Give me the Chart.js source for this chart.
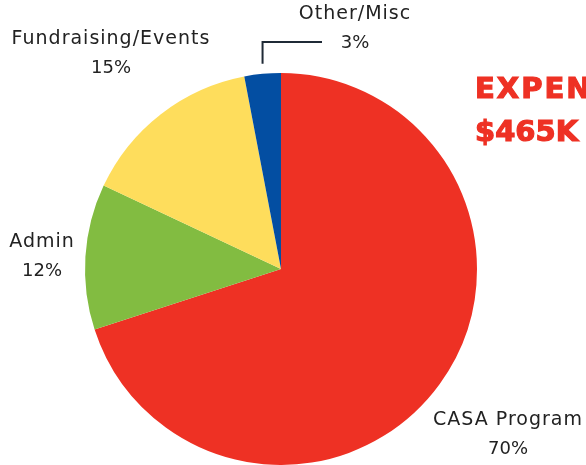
<!DOCTYPE html>
<html>
<head>
<meta charset="utf-8">
<script src="https://cdn.jsdelivr.net/npm/chart.js@4"></script>
<style>
  html, body { margin: 0; padding: 0; background: #fff; }
  #wrap { width: 586px; height: 465px; }
</style>
</head>
<body>
<div id="wrap"><canvas id="expenseChart" width="586" height="465"></canvas></div>
<script>
const categories = ['CASA Program', 'Admin', 'Fundraising/Events', 'Other/Misc'];
const percentages = [70, 12, 15, 3];
const sliceColors = ['#EE3124', '#82BC41', '#FEDD5C', '#034EA2'];
const titleLines = ['EXPENSES', '$465K'];

// where each category label sits (centre of text block)
const labelSpots = [
    { x: 508, y: 420 },
    { x: 42, y: 242 },
    { x: 111, y: 39 },
    { x: 355, y: 14 }
];

const labelsPlugin = {
    id: 'pieLabels',
    afterDraw(chart) {
        const ctx = chart.ctx;
        const arcs = chart.getDatasetMeta(0).data;
        ctx.save();

        // leader line for the small slice
        const small = arcs[3];
        const mid = (small.startAngle + small.endAngle) / 2;
        const lx = small.x + Math.cos(mid) * small.outerRadius;
        const ly = small.y + Math.sin(mid) * small.outerRadius;
        ctx.strokeStyle = '#1f2a36';
        ctx.lineWidth = 2;
        ctx.beginPath();
        ctx.moveTo(lx, ly - 10);
        ctx.lineTo(lx, 42);
        ctx.lineTo(322, 42);
        ctx.stroke();

        ctx.fillStyle = '#222';
        ctx.textAlign = 'center';
        ctx.textBaseline = 'middle';
        categories.forEach((name, i) => {
            const spot = labelSpots[i];
            ctx.font = '19px "DejaVu Sans", sans-serif';
            ctx.letterSpacing = '1px';
            ctx.fillText(name, spot.x, spot.y);
            ctx.font = '18px "DejaVu Sans", sans-serif';
            ctx.letterSpacing = '0px';
            ctx.fillText(percentages[i] + '%', spot.x, spot.y + 29);
        });

        // big red title, running off the right edge
        ctx.fillStyle = '#EE3124';
        ctx.strokeStyle = '#EE3124';
        ctx.lineWidth = 1.2;
        ctx.font = 'bold 29px "DejaVu Sans", sans-serif';
        ctx.textAlign = 'left';
        ctx.letterSpacing = '2px';
        ctx.fillText(titleLines[0], 475, 90);
        ctx.strokeText(titleLines[0], 475, 90);
        ctx.letterSpacing = '0px';
        ctx.fillText(titleLines[1], 475, 133);
        ctx.strokeText(titleLines[1], 475, 133);
        ctx.restore();
    }
};

const ctx = document.getElementById('expenseChart').getContext('2d');
new Chart(ctx, {
    type: 'pie',
    data: {
        labels: categories,
        datasets: [{
            data: percentages,
            backgroundColor: sliceColors,
            borderWidth: 0,
            hoverOffset: 0
        }]
    },
    options: {
        responsive: false,
        animation: false,
        layout: { padding: { left: 85, right: 109, top: 73, bottom: 0 } },
        plugins: {
            legend: { display: false },
            tooltip: { enabled: false }
        }
    },
    plugins: [labelsPlugin]
});
</script>
</body>
</html>
